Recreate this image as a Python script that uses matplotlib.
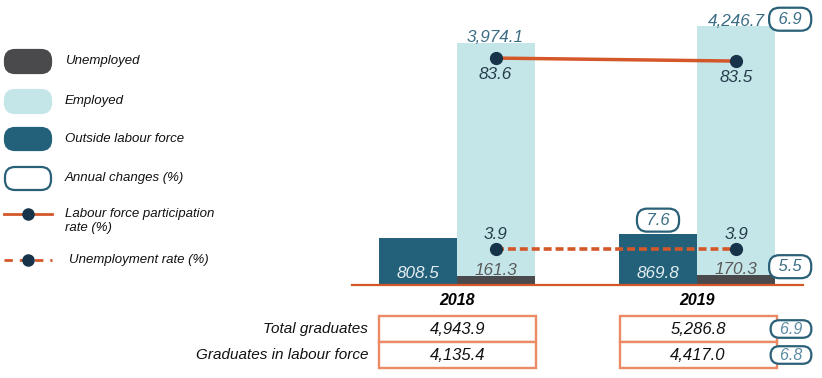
import matplotlib
matplotlib.use('Agg')
import matplotlib.pyplot as plt
from matplotlib.patches import FancyBboxPatch, Rectangle
from matplotlib.lines import Line2D
import numpy as np

plt.rcParams['font.family'] = ['Liberation Sans', 'DejaVu Sans']

# ---------------- data ----------------
years = ['2018', '2019']
outside = [808.5, 869.8]
unemployed = [161.3, 170.3]
employed = [3974.1, 4246.7]
participation = [83.6, 83.5]
unemp_rate = [3.9, 3.9]
total_grads = [4943.9, 5286.8]
grads_lf = [4135.4, 4417.0]
row_labels = ['Total graduates', 'Graduates in labour force']
chg_employed = '6.9'
chg_outside = '7.6'
chg_unemployed = '5.5'
chg_table = ['6.9', '6.8']
legend_labels = ['Unemployed', 'Employed', 'Outside labour force', 'Annual changes (%)',
                 'Labour force participation\nrate (%)', 'Unemployment rate (%)']

# ---------------- styles ----------------
C_UNEMP = '#4a4a4c'
C_EMP = '#c5e6e8'
C_OUT = '#23607a'
C_ORANGE = '#d4572a'
C_DOT = '#17334a'
C_BOXEDGE = '#2a6178'
C_VAL = '#3b6d85'
C_TABLE = '#ec8a66'
SP = '\u2004'
SP2 = '\u2002'

W, H = 822, 378
fig = plt.figure(figsize=(W / 100, H / 100), dpi=100)

def fx(px):
    return px / W

def fy(py):
    return 1 - py / H

# main axes: baseline at pixel 285, x from 352 to 803
scale = 240.5
c0 = 456.5
xl = ((352 - c0) / scale, (803 - c0) / scale)
ax = fig.add_axes([fx(352), fy(285), (803 - 352) / W, 285 / H])
ax.set_xlim(*xl)
ax.set_ylim(0, 285 / 0.0586)

x = np.arange(len(years))
w = 78 / scale
emp_tot = np.array(unemployed) + np.array(employed)

ax.bar(x - w / 2, outside, w, color=C_OUT, zorder=2)
ax.bar(x + w / 2, unemployed, w, color=C_UNEMP, zorder=2)
ax.bar(x + w / 2, employed, w, bottom=unemployed, color=C_EMP, zorder=2)

for s in ['top', 'left', 'right']:
    ax.spines[s].set_visible(False)
ax.spines['bottom'].set_color(C_ORANGE)
ax.spines['bottom'].set_linewidth(1.6)
ax.set_yticks([])
ax.set_xticks(x)
ax.set_xticklabels(years, fontsize=11.5, fontweight='bold', fontstyle='italic')
ax.tick_params(axis='x', length=0, pad=6)

FS = 12.3
lab_kw = dict(ha='center', fontstyle='italic', fontsize=FS, textcoords='offset points')
for i in range(len(years)):
    ax.annotate(f'{employed[i]:,.1f}', (x[i] + w / 2, emp_tot[i]), xytext=(0, -2),
                va='bottom', color=C_VAL, **lab_kw)
    ax.annotate(f'{outside[i]:,.1f}', (x[i] - w / 2, 0), xytext=(0, 8),
                va='center', color='#e4eef2', **lab_kw)
    ax.annotate(f'{unemployed[i]:,.1f}', (x[i] + w / 2, unemployed[i]), xytext=(0, -1.5),
                va='bottom', color='#5a5a5a', **lab_kw)

box_kw = dict(boxstyle='round,pad=0.24,rounding_size=0.62', fc='white', ec=C_BOXEDGE, lw=1.6)
bx_kw = dict(lab_kw, fontsize=12)
ax.annotate(SP + chg_employed + SP, (x[1] + w / 2, emp_tot[1]), xytext=(39, 5),
            va='center', color=C_VAL, bbox=box_kw, **bx_kw)
ax.annotate(SP + chg_unemployed + SP, (x[1] + w / 2, unemployed[1]), xytext=(39, 6),
            va='center', color=C_VAL, bbox=box_kw, **bx_kw)
ax.annotate(SP + chg_outside + SP, (x[1] - w / 2, outside[1]), xytext=(0, 10),
            va='center', color=C_VAL, bbox=box_kw, **bx_kw)

# participation rate (own scale)
ax2 = ax.twinx()
ax2.set_ylim(76.02, 85.54)
ax2.axis('off')
ax2.plot(x + w / 2, participation, color=C_ORANGE, lw=2.5, zorder=3,
         marker='o', ms=8.5, mfc=C_DOT, mec=C_DOT)
for i in range(len(years)):
    ax2.annotate(f'{participation[i]:.1f}', (x[i] + w / 2, participation[i]), xytext=(0, -11.5),
                 va='center', color='#243b4b', **lab_kw)

# unemployment rate (own scale)
ax3 = ax.twinx()
ax3.set_ylim(0, 30.9)
ax3.axis('off')
ax3.plot(x + w / 2, unemp_rate, color=C_ORANGE, lw=2.6, ls=(0, (2.2, 1.1)), zorder=3)
ax3.plot(x + w / 2, unemp_rate, ls='none', marker='o', ms=8.5, mfc=C_DOT, mec=C_DOT, zorder=4)
for i in range(len(years)):
    ax3.annotate(f'{unemp_rate[i]:.1f}', (x[i] + w / 2, unemp_rate[i]), xytext=(0, 10.5),
                 va='center', color='#243b4b', **lab_kw)

# ---------------- table ----------------
axt = fig.add_axes([fx(352), fy(368), (803 - 352) / W, (368 - 316) / H])
axt.set_xlim(*xl)
axt.set_ylim(0, 2)
axt.axis('off')
tl = (379 - c0) / scale
tw = (536 - 379) / scale
rows = [total_grads, grads_lf]
for r, vals in enumerate(rows):
    yb = 1 - r
    for i in range(len(years)):
        axt.add_patch(Rectangle((x[i] + tl, yb), tw, 1, fc='white', ec=C_TABLE, lw=1.7,
                                clip_on=False))
        axt.text(x[i] + tl + tw / 2, yb + 0.5, f'{vals[i]:,.1f}', ha='center', va='center',
                 fontsize=12, fontstyle='italic', color='#111111')
    axt.text((368 - c0) / scale, yb + 0.5, row_labels[r], ha='right', va='center',
             fontsize=11, fontstyle='italic', color='#111111')
    axt.text((791 - c0) / scale, yb + 0.5, SP2 + chg_table[r] + SP2, ha='center', va='center',
             fontsize=11.5, fontstyle='italic', color='#5a8aa3',
             bbox=dict(boxstyle='round,pad=0.08,rounding_size=0.55', fc='white', ec=C_BOXEDGE, lw=1.6))

# ---------------- legend (pixel overlay) ----------------
axl = fig.add_axes([0, 0, 1, 1])
axl.set_xlim(0, W)
axl.set_ylim(H, 0)
axl.axis('off')
axl.patch.set_alpha(0)

patches = [(50, 73, C_UNEMP, C_UNEMP), (90, 113, C_EMP, C_EMP),
           (128, 150, C_OUT, C_OUT), (167, 190, 'white', C_BOXEDGE)]
rad = 10
for (t, b, fc, ec) in patches:
    axl.add_patch(FancyBboxPatch((5 + rad, t + rad), 46 - 2 * rad, (b - t) - 2 * rad,
                                 boxstyle=f'round,pad={rad}', fc=fc, ec=ec, lw=1.6))
ly = [61, 101, 139, 178, 221, 260]
lx = [65, 65, 65, 65, 65, 69]
for i, lab in enumerate(legend_labels):
    axl.text(lx[i], ly[i], lab, ha='left', va='center', fontsize=9.5, fontstyle='italic',
             color='#111111', linespacing=1.15)
axl.add_line(Line2D([4, 52], [214, 214], color=C_ORANGE, lw=2))
axl.plot([28], [214], 'o', ms=8, mfc=C_DOT, mec=C_DOT)
axl.add_line(Line2D([4, 52], [260, 260], color=C_ORANGE, lw=2, ls=(0, (3, 2.5))))
axl.plot([28], [260], 'o', ms=8, mfc=C_DOT, mec=C_DOT)

fig.savefig('out.png', dpi=100)
